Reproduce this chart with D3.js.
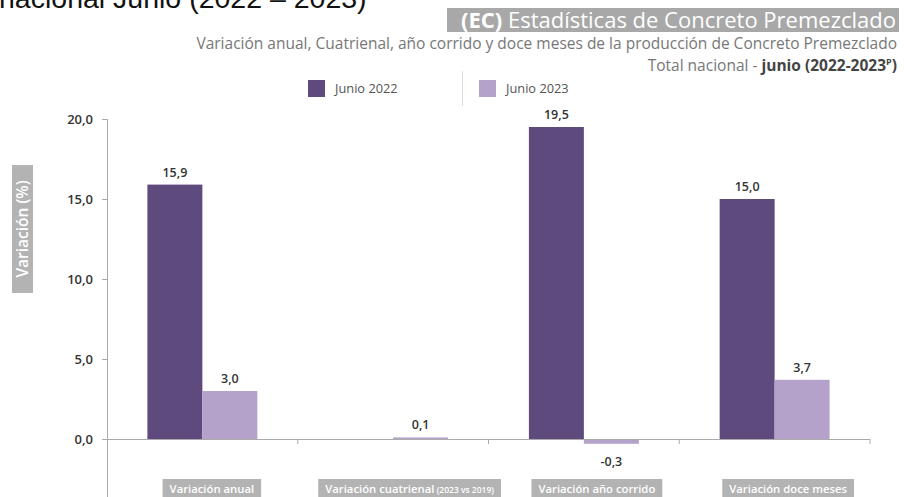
<!DOCTYPE html>
<html><head><meta charset="utf-8">
<script src="https://cdn.jsdelivr.net/npm/d3@7"></script>
<style>body{margin:0;background:#fff;}svg{display:block;font-family:"Open Sans",sans-serif;}</style>
</head><body>
<svg id="c" width="904" height="497"></svg>
<script>
const categories = ["Variación anual", "Variación cuatrienal", "Variación año corrido", "Variación doce meses"];
const categorySmall = ["", " (2023 vs 2019)", "", ""];
const series = ["Junio 2022", "Junio 2023"];
const values2022 = [15.9, null, 19.5, 15.0];
const values2023 = [3.0, 0.1, -0.3, 3.7];
const yTicks = [0, 5, 10, 15, 20];
const colors = ["#5f4a7e", "#b4a2ca"];

const svg = d3.select("#c");
const fmt = v => d3.format(".1f")(v).replace(".", ",").replace("−", "-");

// cut-off heading from above
svg.append("text").attr("x", -1).attr("y", 8).attr("font-family", "Liberation Sans, Arial, sans-serif")
  .attr("font-size", 28.5).attr("fill", "#111").text("nacional Junio (2022 – 2023)");

// title box
svg.append("rect").attr("x", 447).attr("y", 8).attr("width", 452).attr("height", 24).attr("fill", "#a8a8a8");
const t = svg.append("text").attr("x", 896).attr("y", 28).attr("text-anchor", "end").attr("font-size", 22).attr("fill", "#fff");
t.append("tspan").attr("font-weight", "bold").text("(EC)");
t.append("tspan").text(" Estadísticas de Concreto Premezclado");

svg.append("text").attr("x", 897).attr("y", 49).attr("text-anchor", "end").attr("font-size", 15.5).attr("fill", "#777")
  .text("Variación anual, Cuatrienal, año corrido y doce meses de la producción de Concreto Premezclado");
const t3 = svg.append("text").attr("x", 897).attr("y", 71).attr("text-anchor", "end").attr("font-size", 15.5).attr("fill", "#777");
t3.append("tspan").text("Total nacional - ");
t3.append("tspan").attr("font-weight", "bold").attr("fill", "#444").text("junio (2022-2023");
t3.append("tspan").attr("font-weight", "bold").attr("fill", "#444").attr("font-size", 9).attr("dy", -6).text("P");
t3.append("tspan").attr("font-weight", "bold").attr("fill", "#444").attr("dy", 6).text(")");

// legend
const legX = [308, 479];
series.forEach((s, i) => {
  svg.append("rect").attr("x", legX[i]).attr("y", 80).attr("width", 17).attr("height", 17).attr("fill", colors[i]);
  svg.append("text").attr("x", legX[i] + 27).attr("y", 93).attr("font-size", 12.8).attr("fill", "#555").text(s);
});
svg.append("line").attr("x1", 462.5).attr("x2", 462.5).attr("y1", 71).attr("y2", 106).attr("stroke", "#ddd");

// scales
const x0 = d3.scaleBand().domain(categories).range([107, 870]).paddingInner(0).paddingOuter(0);
const x1 = d3.scaleBand().domain(series).range([0, x0.bandwidth()]).paddingInner(0).paddingOuter(0.735);
const y = d3.scaleLinear().domain([0, 20]).range([439, 119]);

// y axis
const ya = svg.append("g").attr("transform", "translate(107,0)")
  .call(d3.axisLeft(y).tickValues(yTicks).tickFormat(fmt).tickSize(5).tickPadding(9));
ya.select(".domain").remove();
ya.selectAll(".tick line").attr("stroke", "#aaa");
ya.selectAll(".tick text").attr("font-family", "Open Sans, sans-serif").attr("font-size", 13).attr("font-weight", 600).attr("fill", "#333");
svg.append("line").attr("x1", 107.5).attr("x2", 107.5).attr("y1", y(20)).attr("y2", y(-3.8)).attr("stroke", "#aaa");

// y title
const yt = svg.append("g").attr("transform", "translate(22.5,229) rotate(-90)");
yt.append("rect").attr("x", -64).attr("y", -10.5).attr("width", 128).attr("height", 21).attr("fill", "#b3b3b3");
yt.append("text").attr("text-anchor", "middle").attr("dy", "0.36em").attr("font-size", 15.5).attr("font-weight", 600).attr("fill", "#fff").text("Variación (%)");

// bars
const data = categories.map((c, i) => ({c, vals: [values2022[i], values2023[i]]}));
data.forEach(d => {
  d.vals.forEach((v, j) => {
    if (v === null) return;
    const bx = x0(d.c) + x1(series[j]);
    svg.append("rect").attr("x", bx).attr("width", x1.bandwidth())
      .attr("y", Math.min(y(v), y(0))).attr("height", Math.max(Math.abs(y(v) - y(0)), 2)).attr("fill", colors[j]);
    svg.append("text").attr("x", bx + x1.bandwidth() / 2).attr("y", v >= 0 ? y(v) - 8 : y(v) + 22)
      .attr("text-anchor", "middle").attr("font-size", 12.5).attr("font-weight", 600).attr("fill", "#333").text(fmt(v));
  });
});

// x axis
svg.append("line").attr("x1", 107).attr("x2", 870).attr("y1", 439.5).attr("y2", 439.5).attr("stroke", "#aaa");
categories.forEach(c => {
  const xe = x0(c) + x0.bandwidth();
  svg.append("line").attr("x1", xe).attr("x2", xe).attr("y1", 439).attr("y2", 444).attr("stroke", "#aaa");
});

// category labels
const labelShift = [9.5, 16.5, 13, 13.5];
categories.forEach((c, i) => {
  const cx = x0(c) + x0.bandwidth() / 2 + labelShift[i];
  const g = svg.append("g");
  const tx = g.append("text").attr("x", cx).attr("y", 493).attr("text-anchor", "middle").attr("font-size", 11.3).attr("font-weight", 600).attr("fill", "#fff");
  tx.append("tspan").text(c);
  if (categorySmall[i]) tx.append("tspan").attr("font-size", 8.5).text(categorySmall[i]);
  const w = tx.node().getComputedTextLength();
  g.insert("rect", "text").attr("x", cx - w / 2 - 7).attr("y", 479).attr("width", w + 14).attr("height", 20).attr("fill", "#b3b3b3");
});
</script>
</body></html>
